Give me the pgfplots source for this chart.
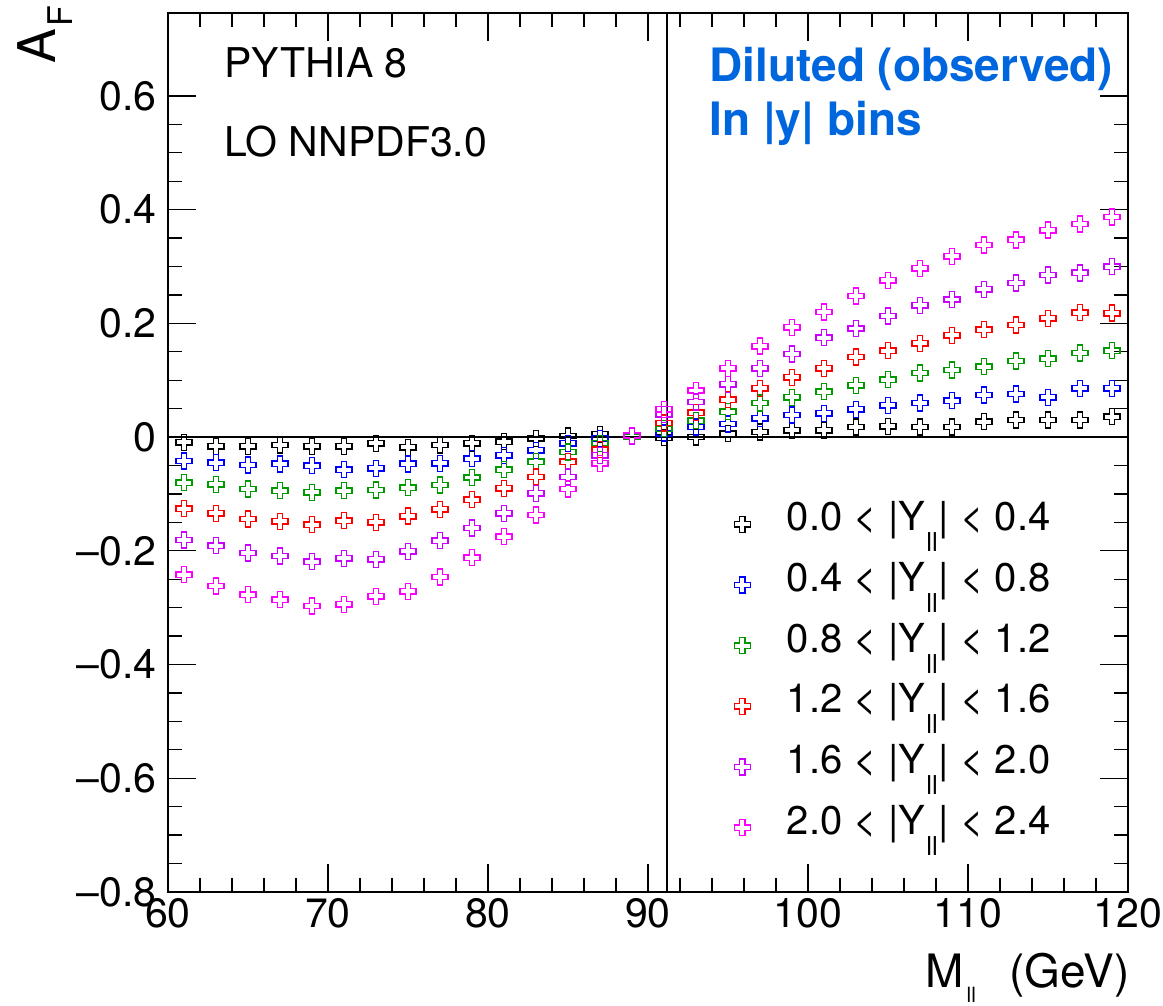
\documentclass[border=0pt]{standalone}
\usepackage{fontspec}
\setmainfont{TeX Gyre Heros}
\usepackage{pgfplots}
\pgfplotsset{compat=1.18}
\definecolor{rgreen}{RGB}{0,153,0}
\definecolor{rviolet}{RGB}{204,0,255}
\definecolor{rmag}{RGB}{255,0,255}
\definecolor{rblue}{RGB}{0,0,255}
\definecolor{rred}{RGB}{255,0,0}
\definecolor{txtblue}{RGB}{0,102,221}

\pgfdeclareplotmark{ocross}{%
  \pgfpathmoveto{\pgfqpoint{-0.333\pgfplotmarksize}{\pgfplotmarksize}}%
  \pgfpathlineto{\pgfqpoint{0.333\pgfplotmarksize}{\pgfplotmarksize}}%
  \pgfpathlineto{\pgfqpoint{0.333\pgfplotmarksize}{0.333\pgfplotmarksize}}%
  \pgfpathlineto{\pgfqpoint{\pgfplotmarksize}{0.333\pgfplotmarksize}}%
  \pgfpathlineto{\pgfqpoint{\pgfplotmarksize}{-0.333\pgfplotmarksize}}%
  \pgfpathlineto{\pgfqpoint{0.333\pgfplotmarksize}{-0.333\pgfplotmarksize}}%
  \pgfpathlineto{\pgfqpoint{0.333\pgfplotmarksize}{-\pgfplotmarksize}}%
  \pgfpathlineto{\pgfqpoint{-0.333\pgfplotmarksize}{-\pgfplotmarksize}}%
  \pgfpathlineto{\pgfqpoint{-0.333\pgfplotmarksize}{-0.333\pgfplotmarksize}}%
  \pgfpathlineto{\pgfqpoint{-\pgfplotmarksize}{-0.333\pgfplotmarksize}}%
  \pgfpathlineto{\pgfqpoint{-\pgfplotmarksize}{0.333\pgfplotmarksize}}%
  \pgfpathlineto{\pgfqpoint{-0.333\pgfplotmarksize}{0.333\pgfplotmarksize}}%
  \pgfpathclose
  \pgfusepathqstroke
}

\pgfplotstableread{
x     b0      b1      b2      b3      b4      b5
61  -0.009  -0.042  -0.080  -0.126  -0.181  -0.242
63  -0.016  -0.045  -0.083  -0.134  -0.191  -0.262
65  -0.016  -0.049  -0.091  -0.144  -0.204  -0.277
67  -0.014  -0.047  -0.094  -0.148  -0.209  -0.286
69  -0.016  -0.050  -0.097  -0.154  -0.219  -0.297
71  -0.016  -0.057  -0.094  -0.147  -0.213  -0.294
73  -0.011  -0.055  -0.093  -0.150  -0.215  -0.280
75  -0.018  -0.047  -0.089  -0.139  -0.201  -0.271
77  -0.014  -0.046  -0.084  -0.127  -0.182  -0.246
79  -0.011  -0.038  -0.071  -0.110  -0.160  -0.212
81  -0.008  -0.032  -0.057  -0.090  -0.134  -0.175
83  -0.002  -0.023  -0.043  -0.070  -0.099  -0.137
85   0.002  -0.011  -0.026  -0.043  -0.070  -0.091
87   0.005  -0.002  -0.011  -0.022  -0.032  -0.046
89   0.001   0.001   0.001   0.002   0.002   0.003
91  -0.001   0.007   0.015   0.025   0.040   0.049
93   0.000   0.018   0.029   0.043   0.062   0.082
95   0.006   0.023   0.045   0.066   0.093   0.121
97   0.009   0.033   0.060   0.086   0.121   0.160
99   0.012   0.039   0.070   0.105   0.146   0.193
101  0.012   0.042   0.080   0.121   0.175   0.220
103  0.018   0.049   0.091   0.141   0.191   0.248
105  0.019   0.056   0.101   0.152   0.213   0.276
107  0.018   0.060   0.113   0.165   0.232   0.297
109  0.018   0.064   0.118   0.179   0.242   0.318
111  0.027   0.074   0.124   0.189   0.260   0.338
113  0.030   0.076   0.134   0.197   0.271   0.347
115  0.030   0.070   0.138   0.209   0.285   0.364
117  0.030   0.086   0.148   0.219   0.289   0.375
119  0.036   0.086   0.152   0.218   0.300   0.387
}\datatab

\newcommand{\lsub}{\kern0.5pt\raisebox{-10.5pt}{\fontsize{13}{13}\selectfont ll}\kern0.5pt}

\begin{document}
\begin{tikzpicture}
\path[use as bounding box] (0,0) rectangle (581.5pt,503pt);
\begin{axis}[
  at={(84pt,57pt)}, anchor=south west,
  scale only axis, width=480pt, height=439.5pt,
  xmin=60, xmax=120, ymin=-0.8, ymax=0.746,
  axis line style={line width=1pt},
  tick style={line width=0.65pt, black},
  tick align=inside,
  xtick pos=both, ytick pos=both,
  major tick length=14pt, minor tick length=7pt,
  xtick={60,70,80,90,100,110,120},
  xticklabels={60,70,80,90,100,110,120},
  minor x tick num=4,
  ytick={-0.8,-0.6,-0.4,-0.2,0,0.2,0.4,0.6},
  yticklabels={\textendash0.8,\textendash0.6,\textendash0.4,\textendash0.2,0,0.2,0.4,0.6},
  minor y tick num=3,
  tick label style={font=\fontsize{20.5}{20.5}\selectfont},
  xticklabel style={inner sep=0pt, yshift=-3pt},
  yticklabel style={inner sep=0pt, xshift=-5.5pt},
  clip=false,
  legend style={draw=none, fill=none, inner sep=0pt, outer sep=0pt,
    at={(0.59,0.4529)}, anchor=north west,
    font=\fontsize{20}{20}\selectfont,
    row sep=0pt,
    nodes={inner sep=0pt, text height=18.4pt, text depth=11.95pt},
    /tikz/every odd column/.append style={column sep=18.3pt}},
  legend cell align=left,
  legend image code/.code={\draw[#1] plot coordinates {(0pt,0pt)};},
]
\addplot[only marks, mark=ocross, mark size=4pt, line width=0.7pt, draw=black] table[x=x,y=b0]{\datatab};
\addlegendentry{0.0 < |Y\lsub| < 0.4}
\addplot[only marks, mark=ocross, mark size=4pt, line width=0.7pt, draw=rblue] table[x=x,y=b1]{\datatab};
\addlegendentry{0.4 < |Y\lsub| < 0.8}
\addplot[only marks, mark=ocross, mark size=4pt, line width=0.7pt, draw=rgreen] table[x=x,y=b2]{\datatab};
\addlegendentry{0.8 < |Y\lsub| < 1.2}
\addplot[only marks, mark=ocross, mark size=4pt, line width=0.7pt, draw=rred] table[x=x,y=b3]{\datatab};
\addlegendentry{1.2 < |Y\lsub| < 1.6}
\addplot[only marks, mark=ocross, mark size=4pt, line width=0.7pt, draw=rviolet] table[x=x,y=b4]{\datatab};
\addlegendentry{1.6 < |Y\lsub| < 2.0}
\addplot[only marks, mark=ocross, mark size=4pt, line width=0.7pt, draw=rmag] table[x=x,y=b5]{\datatab};
\addlegendentry{2.0 < |Y\lsub| < 2.4}
\addplot[forget plot, black, line width=0.65pt] coordinates {(60,0) (120,0)};
\addplot[forget plot, black, line width=0.65pt] coordinates {(91.19,-0.8) (91.19,0.746)};
\end{axis}
% texts
\node[anchor=base west, inner sep=0pt, font=\fontsize{20.5}{20.5}\selectfont] at (112pt,464pt) {PYTHIA 8};
\node[anchor=base west, inner sep=0pt, font=\fontsize{20.5}{20.5}\selectfont] at (112pt,424.5pt) {LO NNPDF3.0};
\node[anchor=base west, inner sep=0pt, text=txtblue, font=\fontsize{23}{23}\selectfont\bfseries] at (354.5pt,462pt) {Diluted (observed)};
\node[anchor=base west, inner sep=0pt, text=txtblue, font=\fontsize{23}{23}\selectfont\bfseries] at (354.5pt,435pt) {In |y| bins};
\node[anchor=base west, inner sep=0pt, rotate=90, font=\fontsize{26}{26}\selectfont] at (27.5pt,471pt) {A\kern1pt\raisebox{-8.5pt}{\fontsize{17}{17}\selectfont F}};
\node[anchor=base east, inner sep=0pt, font=\fontsize{23}{23}\selectfont] at (565pt,9pt) {M\kern1.5pt\raisebox{-7.5pt}{\fontsize{10.5}{10.5}\selectfont ll}\hspace{16.7pt}(GeV)};
\end{tikzpicture}
\end{document}
